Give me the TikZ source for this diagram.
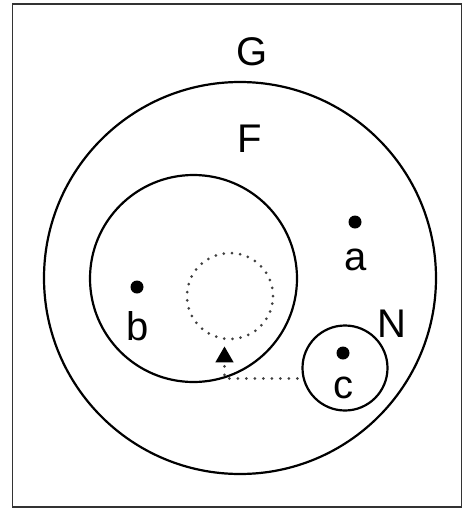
\documentclass[tikz,border=0pt]{standalone}
\usepackage{fontspec}
\setmainfont{Liberation Sans}
\usetikzlibrary{shapes.geometric}
\begin{document}
\begin{tikzpicture}[x=1pt,y=-1pt,
  ring/.style={draw,circle,line width=2.2pt,inner sep=0pt},
  dotring/.style={draw=black!75,circle,line width=3pt,inner sep=0pt,dash pattern=on 0pt off 8.2pt,line cap=round},
  pt/.style={fill,circle,inner sep=0pt,minimum size=13pt},
  lab/.style={font=\fontsize{40}{40}\selectfont,inner sep=0pt},
  dotline/.style={draw=black!75,line width=3pt,dash pattern=on 0pt off 8.5pt,line cap=round}]
\useasboundingbox (0,0) rectangle (463,512);
\draw[line width=1.8pt,black!80] (12.5,4) rectangle (461.5,507);
\node[ring,minimum size=392pt] (G) at (240,278) {};
\node[ring,minimum size=207pt] (F) at (193.5,278.5) {};
\node[dotring,minimum size=86pt] (D) at (230,296) {};
\node[ring,minimum size=85pt] (N) at (345,368) {};
\node[regular polygon,regular polygon sides=3,fill,inner sep=0pt,minimum size=21pt] (T) at (224.5,357) {};
\draw[dotline] ([yshift=-4pt]T.south) |- (N.194);
\node[pt] (pa) at (355,222) {};
\node[pt] (pb) at (137,287) {};
\node[pt] (pc) at (343,353) {};
\node[lab] (la) at (356,260) {a};
\node[lab] (lb) at (138,326) {b};
\node[lab] (lc) at (343,388) {c};
\node[lab] (lN) at (392,324) {N};
\node[lab] (lF) at (250,139) {F};
\node[lab] (lG) at (252,52) {G};
\end{tikzpicture}
\end{document}
